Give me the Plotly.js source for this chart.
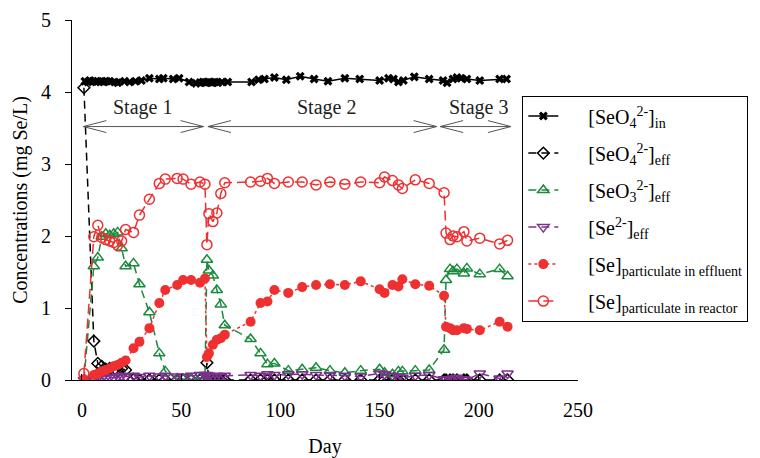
<!DOCTYPE html>
<html>
<head>
<meta charset="utf-8">
<script src="https://cdn.plot.ly/plotly-3.0.1.min.js"></script>
<style>html,body{margin:0;padding:0;background:#fff}#chart{width:760px;height:458px}</style>
</head>
<body>
<div id="chart"></div>
<script>
// Influent selenate
const daysIn = [1.5,3,4,5.5,7,8,9.5,11,12.5,14,16.5,18,21.5,24,27,30,34,39,41,46,49,54,57.5,59.5,61,62.5,64,65.5,67,68.5,70.5,73.5,85.5,89,92,97,103,110,117,124,132.5,140,150,154.5,157,159.5,162,167.5,175,182,184,187,189,191,194,200.5,210.5,214];
const seo4In  = [4.15,4.14,4.16,4.15,4.14,4.15,4.15,4.14,4.15,4.15,4.14,4.13,4.15,4.14,4.15,4.16,4.19,4.18,4.19,4.18,4.19,4.14,4.12,4.13,4.14,4.13,4.14,4.13,4.14,4.13,4.14,4.14,4.14,4.17,4.18,4.2,4.17,4.22,4.18,4.15,4.19,4.18,4.16,4.19,4.18,4.14,4.16,4.21,4.18,4.16,4.13,4.18,4.2,4.19,4.18,4.16,4.18,4.18];

// Effluent / reactor sampling days
const days = [1,6,8,10,12,14,16,18,20,22,26,29,34,39,42,48,51,55,59.5,62,63,64,66,68,70,72,85,90,93.5,97,104,111,118,125,132.5,140.5,150,152.5,156.5,159.5,161.5,168,175,182.5,183.5,185.5,187,189,192.5,194,200.5,210.5,214.5];
const seo4Eff = [4.06,0.54,0.23,0.19,0.15,0.16,0.14,0.12,0.16,0.14,0.01,0,0,0,0,0,0,0,0,0,0.24,0.02,0,0,0,0,0,0,0,0,0,0,0,0,0,0,0,0,0,0,0,0,0,0,0,0,0,0,0,0,0,0,0];
const seo3Eff = [0,1.58,1.70,1.99,2.03,2.01,2.03,2.05,1.83,1.58,1.62,1.33,0.94,0.37,0.12,0.02,0.01,0.02,0.03,0.02,1.67,1.52,1.45,1.25,1.05,0.76,0.57,0.37,0.22,0.23,0.13,0.15,0.17,0.13,0.1,0.13,0.15,0.1,0.08,0.12,0.12,0.13,0.14,0.42,1.39,1.54,1.51,1.54,1.48,1.55,1.47,1.54,1.44];
const se2Eff  = [0,0.02,0.03,0.02,0.03,0.04,0.03,0.05,0.06,0.05,0.06,0.04,0.06,0.05,0.06,0.05,0.04,0.06,0.07,0.07,0.07,0.06,0.05,0.06,0.05,0.06,0.07,0.06,0.08,0.07,0.08,0.08,0.07,0.07,0.06,0.05,0.09,0.08,0.06,0.04,0.03,0.06,0.07,0.01,0.01,0,0.02,0.03,0.01,0,0.09,0.02,0.09];
const partEff = [0.01,0.07,0.09,0.12,0.14,0.16,0.19,0.21,0.24,0.27,0.44,0.53,0.72,1.07,1.25,1.32,1.39,1.39,1.35,1.41,0.32,0.37,0.49,0.56,0.58,0.63,0.81,1.07,1.09,1.25,1.21,1.29,1.32,1.33,1.32,1.37,1.26,1.21,1.32,1.30,1.40,1.33,1.31,1.17,0.74,0.72,0.69,0.69,0.72,0.71,0.69,0.81,0.74];
const partReac = [0.09,1.99,2.15,1.98,1.95,1.93,1.91,1.87,1.93,2.09,2.05,2.29,2.51,2.73,2.79,2.80,2.79,2.72,2.75,2.72,1.88,2.31,2.20,2.32,2.59,2.74,2.75,2.76,2.80,2.73,2.75,2.75,2.71,2.75,2.72,2.75,2.74,2.82,2.77,2.71,2.66,2.78,2.73,2.60,2.04,1.95,2.00,1.99,2.06,1.93,1.97,1.89,1.94];

// Stages
const stageNames = ['Stage 1','Stage 2','Stage 3'];
const stageStart = [0.7, 63.5, 180.5];
const stageEnd   = [61.3, 178.8, 216.2];
const stageLabelX = [30.7, 123.5, 200];
const stageArrowY = 3.52;
const stageLabelY = 3.79;

const xTicks = [0,50,100,150,200,250];
const yTicks = [0,1,2,3,4,5];

const serif = 'Liberation Serif, Times New Roman, serif';
const RED = '#ee3030', GREEN = '#1a8a3c', PURPLE = '#7e2f8e';
const pad = '\u00a0\u00a0\u00a0\u00a0\u00a0';

const traces = [
  {x: daysIn, y: seo4In, name: pad + '[SeO<sub>4</sub><sup>2-</sup>]<sub>in</sub>', mode: 'lines+markers',
   line: {color: '#000', width: 1.5}, marker: {symbol: 'x', size: 8, color: '#000'}},
  {x: days, y: seo4Eff, name: pad + '[SeO<sub>4</sub><sup>2-</sup>]<sub>eff</sub>', mode: 'lines+markers',
   line: {color: '#000', width: 1.5, dash: '8px,5px'}, marker: {symbol: 'diamond-open', size: 9, color: '#000', line: {width: 1.5}}},
  {x: days, y: seo3Eff, name: pad + '[SeO<sub>3</sub><sup>2-</sup>]<sub>eff</sub>', mode: 'lines+markers',
   line: {color: GREEN, width: 1.5, dash: '8px,5px'}, marker: {symbol: 'triangle-up-open', size: 10, color: GREEN, line: {width: 1.5}}},
  {x: days, y: se2Eff, name: pad + '[Se<sup>2-</sup>]<sub>eff</sub>', mode: 'lines+markers',
   line: {color: PURPLE, width: 1.5, dash: '8px,5px'}, marker: {symbol: 'triangle-down-open', size: 10, color: PURPLE, line: {width: 1.5}}},
  {x: days, y: partEff, name: pad + '[Se]<sub>particulate in effluent</sub>', mode: 'lines+markers',
   line: {color: RED, width: 1.5, dash: 'dot'}, marker: {symbol: 'circle', size: 10, color: RED}},
  {x: days, y: partReac, name: pad + '[Se]<sub>particulate in reactor</sub>', mode: 'lines+markers',
   line: {color: RED, width: 1.5, dash: '10px,5px'}, marker: {symbol: 'circle-open', size: 10, color: RED, line: {width: 1.5}}}
];
traces.forEach((t, i) => { t.type = 'scatter'; t.legendgroup = 'g' + i; });

// stage arrows as shapes
const shapes = [];
const headDx = 11.6, headDy = 0.083;
for (let i = 0; i < stageNames.length; i++) {
  const a = stageStart[i], b = stageEnd[i], y = stageArrowY;
  const st = {color: '#555', width: 1};
  shapes.push({type: 'line', xref: 'x', yref: 'y', x0: a, x1: b, y0: y, y1: y, line: st});
  shapes.push({type: 'path', xref: 'x', yref: 'y', line: st,
    path: `M${a + headDx},${y + headDy} L${a},${y} L${a + headDx},${y - headDy}`});
  shapes.push({type: 'path', xref: 'x', yref: 'y', line: st,
    path: `M${b - headDx},${y + headDy} L${b},${y} L${b - headDx},${y - headDy}`});
}
const annotations = stageNames.map((s, i) => ({
  x: stageLabelX[i], y: stageLabelY, xref: 'x', yref: 'y', text: s, showarrow: false,
  font: {family: serif, size: 20, color: '#222'}
}));

const layout = {
  width: 760, height: 458,
  margin: {l: 72, r: 182, t: 20, b: 78},
  paper_bgcolor: '#fff', plot_bgcolor: '#fff',
  font: {family: serif, size: 20, color: '#000'},
  showlegend: true,
  legend: {x: 0.89, y: 0.79, xanchor: 'left', yanchor: 'top', bgcolor: '#fff',
           bordercolor: '#000', borderwidth: 1, font: {family: serif, size: 20, color: '#000'},
           tracegroupgap: 8},
  xaxis: {range: [-5, 250], tickvals: xTicks, ticktext: xTicks.map(String), ticks: 'inside', ticklen: 6,
          ticklabelstandoff: 12,
          tickcolor: '#000', showline: true, linecolor: '#000', linewidth: 1, showgrid: false, zeroline: false,
          tickfont: {family: serif, size: 20}, title: {text: 'Day', font: {family: serif, size: 20}, standoff: 20}},
  yaxis: {range: [0, 5], tickvals: yTicks, ticktext: yTicks.map(String), ticks: 'outside', ticklen: 6,
          ticklabelstandoff: 10,
          tickcolor: '#000', showline: true, linecolor: '#000', linewidth: 1, showgrid: false, zeroline: false,
          tickfont: {family: serif, size: 20}, title: {text: 'Concentrations (mg Se/L)', font: {family: serif, size: 20}, standoff: 8}},
  shapes: shapes,
  annotations: annotations
};

Plotly.newPlot('chart', traces, layout, {displayModeBar: false, staticPlot: true});
</script>
</body>
</html>
